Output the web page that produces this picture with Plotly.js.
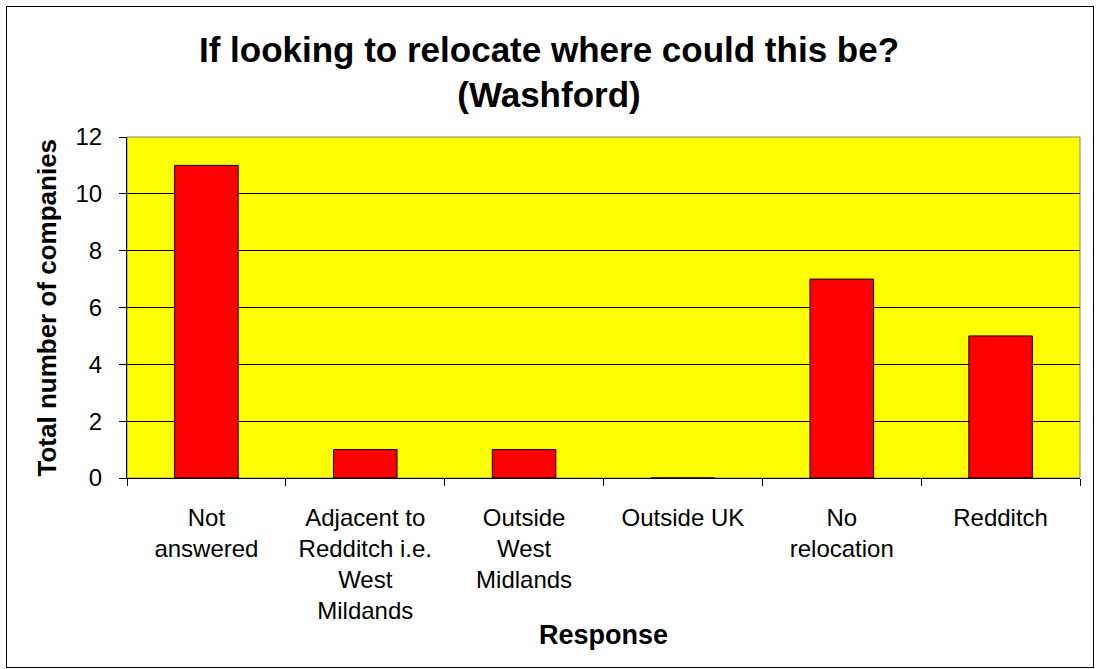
<!DOCTYPE html>
<html><head><meta charset="utf-8">
<script src="https://cdn.plot.ly/plotly-3.0.1.min.js"></script>
<style>
body{margin:0;padding:0;background:#fff;}
#wrap{position:relative;width:1098px;height:669px;}
#chart{position:absolute;left:0;top:0;width:1098px;height:669px;}
#frame{position:absolute;left:6px;top:6px;width:1086px;height:660px;border:1px solid #000;pointer-events:none;}
</style></head>
<body><div id="wrap"><div id="chart"></div><div id="frame"></div></div>
<script>
const categories = ["Not answered","Adjacent to Redditch i.e. West Mildands","Outside West Midlands","Outside UK","No relocation","Redditch"];
const tickLabels = ["Not<br>answered","Adjacent to<br>Redditch i.e.<br>West<br>Mildands","Outside<br>West<br>Midlands","Outside UK","No<br>relocation","Redditch"];
const companies = [11,1,1,0,7,5];
const yTicks = [0,2,4,6,8,10,12];

const font = "Liberation Sans, Arial, sans-serif";
Plotly.newPlot('chart',[{
  type:'bar', x:categories, y:companies,
  marker:{color:'#ff0000', line:{color:'#000', width:1}},
  hoverinfo:'x+y'
}],{
  width:1098, height:669,
  paper_bgcolor:'#fff', plot_bgcolor:'#ffff00',
  margin:{l:127,r:18,t:137,b:191},
  bargap:0.6,
  showlegend:false,
  font:{family:font,color:'#000',size:24},
  title:{text:'<b>If looking to relocate where could this be?<br>(Washford)</b>', font:{size:35,family:font}, x:0.5, xanchor:'center', yref:'container', y:0.908, yanchor:'top'},
  xaxis:{type:'category', tickmode:'array', tickvals:categories, ticktext:tickLabels,
    tickson:'boundaries', ticks:'outside', ticklen:7, tickcolor:'#000',
    showline:true, linecolor:'#000', linewidth:1, showgrid:false,
    tickfont:{size:24}, ticklabelstandoff:18, automargin:false},
  yaxis:{range:[0,12], tickmode:'array', tickvals:yTicks, ticks:'outside', ticklen:7, tickcolor:'#000',
    showline:true, linecolor:'#000', linewidth:1, showgrid:true, gridcolor:'#000', gridwidth:1,
    zeroline:false, tickfont:{size:24}, ticklabelstandoff:12, automargin:false},
  annotations:[
    {text:'<b>Response</b>', xref:'paper', yref:'paper', x:0.5, y:0, xanchor:'center', yanchor:'middle', yshift:-157, showarrow:false, font:{size:27}},
    {text:'<b>Total number of companies</b>', xref:'paper', yref:'paper', x:0, y:0.5, xanchor:'center', yanchor:'middle', xshift:-81, textangle:-90, showarrow:false, font:{size:26}}
  ],
  shapes:[{type:'rect', xref:'paper', yref:'paper', x0:0, x1:1, y0:0, y1:1, line:{color:'#808080', width:1}, layer:'below'}]
},{displayModeBar:false, staticPlot:true});
</script></body></html>
